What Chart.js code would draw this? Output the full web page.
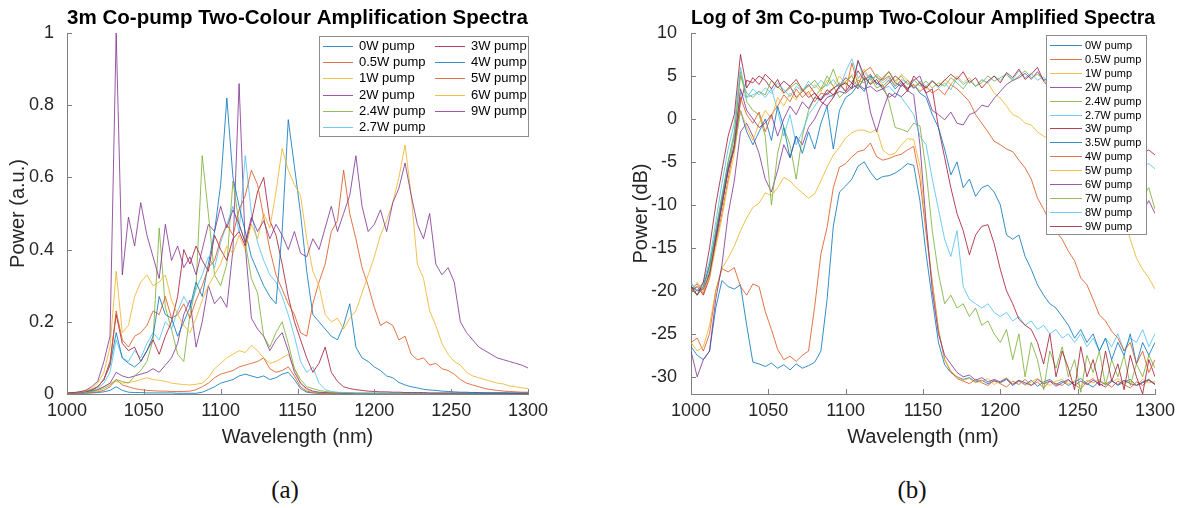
<!DOCTYPE html>
<html>
<head>
<meta charset="utf-8">
<title>3m Co-pump Two-Colour Amplification Spectra</title>
<script src="https://cdn.jsdelivr.net/npm/chart.js@4.4.0/dist/chart.umd.min.js"></script>
<style>
  html, body { margin: 0; padding: 0; background: #fff; }
  body { width: 1185px; height: 508px; position: relative; overflow: hidden; }
  .panel { position: absolute; top: 0; height: 460px; }
  #panelA { left: 0; width: 580px; }
  #panelB { left: 600px; width: 585px; }
  .caption { position: absolute; top: 475px; line-height: 30px; font-family: 'Liberation Serif', 'DejaVu Serif', serif; font-size: 25px; color: #111; transform: translateX(-50%); }
</style>
</head>
<body>
<div class="panel" id="panelA"><canvas id="chartA" width="580" height="460"></canvas></div>
<div class="panel" id="panelB"><canvas id="chartB" width="585" height="460"></canvas></div>
<div class="caption" style="left:285px">(a)</div>
<div class="caption" style="left:912px">(b)</div>

<script>
// --- Data (4 nm sampling) ---
const wavelength = [
  1000,1004,1008,1012,1016,1020,1024,1028,1032,1036,
  1040,1044,1048,1052,1056,1060,1064,1068,1072,1076,
  1080,1084,1088,1092,1096,1100,1104,1108,1112,1116,
  1120,1124,1128,1132,1136,1140,1144,1148,1152,1156,
  1160,1164,1168,1172,1176,1180,1184,1188,1192,1196,
  1200,1204,1208,1212,1216,1220,1224,1228,1232,1236,
  1240,1244,1248,1252,1256,1260,1264,1268,1272,1276,
  1280,1284,1288,1292,1296,1300
];
const xTicks = [1000, 1050, 1100, 1150, 1200, 1250, 1300];
const linTicks = [0, 0.2, 0.4, 0.6, 0.8, 1];
const dbTicks = [-30, -25, -20, -15, -10, -5, 0, 5, 10];

// (a) linear spectra, a.u.
const linLabels = ['0W pump','0.5W pump','1W pump','2W pump','2.4W pump','2.7W pump','3W pump','4W pump','5W pump','6W pump','9W pump'];
const lin0W = [
  0.001,0.001,0.002,0.002,0.003,0.004,0.006,0.010,0.020,0.010,
  0.005,0.004,0.004,0.003,0.003,0.003,0.003,0.003,0.002,0.002,
  0.002,0.002,0.005,0.012,0.020,0.030,0.035,0.040,0.050,0.055,
  0.050,0.045,0.050,0.040,0.045,0.055,0.060,0.040,0.015,0.005,
  0.003,0.002,0.002,0.002,0.002,0.001,0.001,0.001,0.001,0.001,
  0.001,0.001,0.001,0.001,0.001,0.001,0.001,0.001,0.001,0.001,
  0.001,0.001,0.001,0.001,0.001,0.001,0.001,0.001,0.001,0.001,
  0.001,0.001,0.001,0.001,0.001,0.001];
const lin05W = [
  0.001,0.001,0.002,0.003,0.004,0.006,0.010,0.020,0.040,0.025,
  0.020,0.015,0.012,0.010,0.009,0.008,0.008,0.007,0.007,0.007,
  0.008,0.012,0.020,0.030,0.045,0.055,0.060,0.065,0.075,0.080,
  0.085,0.090,0.100,0.070,0.060,0.065,0.075,0.050,0.020,0.008,
  0.004,0.003,0.002,0.002,0.002,0.002,0.001,0.001,0.001,0.001,
  0.001,0.001,0.001,0.001,0.001,0.001,0.001,0.001,0.001,0.001,
  0.001,0.001,0.001,0.001,0.001,0.001,0.001,0.001,0.001,0.001,
  0.001,0.001,0.001,0.001,0.001,0.001];
const lin1W = [
  0.001,0.002,0.003,0.005,0.008,0.012,0.020,0.030,0.035,0.030,
  0.032,0.035,0.040,0.045,0.040,0.038,0.035,0.030,0.028,0.026,
  0.025,0.027,0.030,0.045,0.070,0.085,0.100,0.110,0.120,0.115,
  0.135,0.120,0.100,0.085,0.090,0.100,0.110,0.070,0.030,0.012,
  0.006,0.004,0.003,0.002,0.002,0.002,0.002,0.001,0.001,0.001,
  0.001,0.001,0.001,0.001,0.001,0.001,0.001,0.001,0.001,0.001,
  0.001,0.001,0.001,0.001,0.001,0.001,0.001,0.001,0.001,0.001,
  0.001,0.001,0.001,0.001,0.001,0.001];
const lin2W = [
  0.001,0.002,0.003,0.005,0.008,0.012,0.020,0.030,0.060,0.050,
  0.045,0.050,0.055,0.060,0.070,0.060,0.080,0.100,0.140,0.220,
  0.260,0.130,0.200,0.300,0.250,0.270,0.240,0.400,0.860,0.410,
  0.210,0.180,0.160,0.120,0.150,0.170,0.120,0.060,0.030,0.015,
  0.008,0.005,0.004,0.003,0.003,0.002,0.002,0.002,0.002,0.002,
  0.002,0.002,0.002,0.002,0.001,0.001,0.001,0.001,0.001,0.001,
  0.001,0.001,0.001,0.001,0.001,0.001,0.001,0.001,0.001,0.001,
  0.001,0.001,0.001,0.001,0.001,0.001];
const lin24W = [
  0.001,0.002,0.003,0.004,0.006,0.010,0.015,0.025,0.040,0.035,
  0.030,0.050,0.065,0.090,0.150,0.460,0.240,0.180,0.110,0.090,
  0.220,0.300,0.660,0.500,0.330,0.300,0.360,0.590,0.470,0.420,
  0.320,0.280,0.160,0.130,0.170,0.200,0.140,0.070,0.040,0.020,
  0.015,0.010,0.007,0.005,0.004,0.003,0.003,0.002,0.002,0.002,
  0.002,0.002,0.002,0.002,0.002,0.001,0.001,0.001,0.001,0.001,
  0.001,0.001,0.001,0.001,0.001,0.001,0.001,0.001,0.001,0.001,
  0.001,0.001,0.001,0.001,0.001,0.001];
const lin27W = [
  0.001,0.002,0.003,0.005,0.008,0.015,0.030,0.060,0.150,0.100,
  0.090,0.120,0.100,0.140,0.170,0.150,0.200,0.180,0.230,0.270,
  0.240,0.290,0.330,0.380,0.350,0.420,0.470,0.520,0.450,0.660,
  0.500,0.420,0.370,0.330,0.310,0.270,0.220,0.160,0.090,0.060,
  0.075,0.030,0.012,0.007,0.005,0.004,0.004,0.003,0.003,0.003,
  0.002,0.002,0.002,0.002,0.002,0.002,0.002,0.002,0.002,0.002,
  0.002,0.002,0.002,0.002,0.002,0.002,0.002,0.002,0.002,0.002,
  0.002,0.002,0.002,0.002,0.002,0.002];
const lin3W = [
  0.002,0.003,0.004,0.007,0.010,0.020,0.040,0.090,0.220,0.140,
  0.120,0.130,0.090,0.120,0.150,0.110,0.160,0.200,0.270,0.400,
  0.360,0.410,0.370,0.340,0.440,0.400,0.370,0.430,0.450,0.410,
  0.480,0.560,0.600,0.480,0.440,0.360,0.270,0.200,0.150,0.100,
  0.060,0.085,0.130,0.060,0.035,0.020,0.015,0.012,0.010,0.008,
  0.007,0.006,0.006,0.005,0.005,0.004,0.004,0.004,0.004,0.003,
  0.003,0.003,0.003,0.003,0.003,0.003,0.003,0.003,0.003,0.003,
  0.003,0.003,0.003,0.003,0.003,0.003];
const lin4W = [
  0.002,0.003,0.005,0.008,0.012,0.020,0.040,0.080,0.170,0.100,
  0.085,0.075,0.090,0.120,0.160,0.270,0.220,0.210,0.160,0.200,
  0.240,0.310,0.270,0.360,0.450,0.580,0.820,0.600,0.520,0.450,
  0.380,0.340,0.300,0.270,0.250,0.450,0.760,0.630,0.500,0.340,
  0.220,0.200,0.180,0.160,0.150,0.190,0.250,0.130,0.100,0.090,
  0.075,0.065,0.050,0.045,0.032,0.025,0.020,0.017,0.013,0.011,
  0.010,0.008,0.007,0.006,0.005,0.005,0.004,0.004,0.003,0.003,
  0.003,0.003,0.002,0.002,0.002,0.002];
const lin5W = [
  0.002,0.003,0.005,0.008,0.012,0.020,0.040,0.080,0.230,0.150,
  0.130,0.160,0.170,0.190,0.230,0.220,0.270,0.210,0.220,0.250,
  0.210,0.260,0.300,0.350,0.370,0.430,0.470,0.440,0.510,0.550,
  0.620,0.580,0.490,0.400,0.330,0.290,0.250,0.220,0.170,0.160,
  0.250,0.310,0.360,0.450,0.480,0.620,0.500,0.430,0.350,0.300,
  0.240,0.190,0.200,0.190,0.150,0.160,0.110,0.095,0.100,0.080,
  0.085,0.070,0.065,0.055,0.040,0.030,0.025,0.020,0.015,0.012,
  0.010,0.008,0.007,0.006,0.005,0.005];
const lin6W = [
  0.002,0.003,0.005,0.008,0.015,0.030,0.060,0.130,0.340,0.170,
  0.190,0.270,0.310,0.330,0.300,0.310,0.330,0.260,0.220,0.190,
  0.170,0.210,0.260,0.300,0.330,0.360,0.410,0.390,0.440,0.400,
  0.470,0.430,0.500,0.460,0.560,0.680,0.620,0.580,0.550,0.430,
  0.340,0.300,0.220,0.200,0.210,0.180,0.210,0.230,0.280,0.330,
  0.380,0.440,0.480,0.530,0.600,0.690,0.550,0.360,0.320,0.230,
  0.190,0.140,0.110,0.090,0.080,0.060,0.050,0.045,0.040,0.035,
  0.030,0.028,0.022,0.020,0.017,0.015];
const lin9W = [
  0.003,0.004,0.006,0.010,0.020,0.035,0.090,0.160,1.000,0.330,
  0.490,0.410,0.530,0.440,0.380,0.320,0.470,0.370,0.410,0.350,
  0.380,0.330,0.400,0.470,0.450,0.520,0.460,0.510,0.470,0.420,
  0.490,0.450,0.480,0.430,0.470,0.440,0.400,0.450,0.390,0.380,
  0.430,0.400,0.460,0.520,0.450,0.500,0.550,0.660,0.520,0.450,
  0.470,0.510,0.450,0.530,0.570,0.640,0.550,0.470,0.430,0.500,
  0.360,0.330,0.350,0.310,0.200,0.170,0.150,0.130,0.120,0.110,
  0.100,0.095,0.090,0.085,0.080,0.072];

// (b) log spectra, dB
const dbLabels = ['0W pump','0.5W pump','1W pump','2W pump','2.4W pump','2.7W pump','3W pump','3.5W pump','4W pump','5W pump','6W pump','7W pump','8W pump','9W pump'];
const db0W = [
  -26.5,-27.5,-28,-27,-22,-18.8,-19.5,-19.8,-19.3,-24,
  -28.3,-28.5,-28.8,-28.4,-29,-28.6,-29.2,-28.5,-29,-28.7,
  -28.3,-27,-21,-12.5,-8.5,-7.8,-7,-5.5,-5,-6.2,
  -7.1,-6.7,-6.6,-6.3,-5.8,-5.2,-5.4,-9.5,-15.7,-21,
  -26,-28.6,-29.5,-30,-30.3,-30.1,-30.6,-30.4,-30.8,-30.5,
  -30.7,-30.3,-31,-30.5,-30.9,-30.4,-31.1,-30.6,-30.3,-30.9,
  -30.5,-31,-30.6,-30.2,-30.8,-31.2,-30.5,-30.9,-30.4,-31,
  -30.6,-30.3,-31,-30.7,-30.4,-30.9];
const db05W = [
  -26,-25.5,-27,-25,-20,-17.4,-17.8,-17.3,-19.5,-20.5,
  -19.2,-19.5,-22.4,-24.5,-26.8,-28,-27.6,-28.2,-27.5,-27,
  -21.8,-15.7,-12.6,-8,-5.6,-5.2,-4.4,-3.8,-3.6,-2.8,
  -4.4,-4.8,-4.6,-4.3,-4.1,-3.6,-3.2,-7,-13.3,-19,
  -24.5,-28,-29.4,-30.2,-30.5,-30.8,-30.3,-30.7,-31,-30.4,
  -30.8,-31.2,-30.5,-30.9,-30.3,-31,-30.6,-31.3,-30.5,-30.8,
  -31,-30.4,-30.9,-31.4,-30.6,-30.2,-31,-30.7,-31.2,-30.5,
  -30.9,-31.3,-30.6,-31,-30.4,-30.8];
const db1W = [
  -26,-27,-26.5,-24,-20,-17.4,-16.2,-14.8,-13,-11.5,
  -10.3,-9.8,-8.6,-8.9,-8,-6.8,-7.2,-8,-8.6,-9.2,
  -8.7,-7.2,-5.6,-4.2,-3.3,-2.2,-1.6,-1.3,-1.3,-1.6,
  -1.2,-3.6,-4.2,-4,-3,-2.3,-2.4,-5.5,-12.5,-19,
  -24.5,-28,-29.3,-30,-30.4,-30.2,-30.7,-30.5,-30.2,-30.9,
  -30.5,-30.1,-30.8,-30.4,-31,-30.6,-30.2,-30.7,-31,-30.5,
  -30.3,-30.8,-30.5,-31.1,-30.4,-30.7,-30.3,-30.9,-30.6,-30.2,
  -30.8,-30.5,-31,-30.3,-30.7,-30.5];
const db2W = [
  -27,-30,-28,-27,-21,-17,-11.1,-7.2,-1.5,-0.5,
  -2,-4,-7,-8.5,-6,-3,-4.5,-2,-3,-1,
  0,1.5,2.5,2.8,3.2,3,3.6,4,3.5,3.8,
  3.2,3.5,2.5,3,2.6,3.3,2.8,-3,-12,-20,
  -25,-27.5,-28.5,-29.5,-30,-29.8,-30.4,-30.1,-30.6,-30.3,
  -30.6,-30.2,-30.9,-30.4,-30.7,-31,-30.3,-30.8,-30.5,-31.1,
  -30.7,-30.3,-31,-30.5,-30.9,-30.4,-30.8,-31.2,-30.5,-30.9,
  -30.4,-30.8,-31,-30.6,-30.3,-30.9];
const db24W = [
  -19.5,-20,-19,-18,-14,-10,-6,-2,5.5,2,
  1,0.5,-2,-10,-4,-1,-3,-7,-2,1,
  2.5,3.5,5,3.8,2.5,3.2,3.8,4.5,4.2,4.8,
  3.6,4,2,-1,-1.2,-1.5,-0.5,-0.8,-6,-13,
  -18,-21.5,-20.5,-22,-21.5,-23,-22,-24,-23.5,-25,
  -26,-24.5,-28,-25,-30,-26,-28,-31.5,-27,-29,
  -26.5,-30,-28,-31.8,-27.5,-29.5,-27,-31,-28,-30,
  -27.5,-31,-28.5,-30,-27.5,-29];
const db27W = [
  -19,-20,-19.5,-17,-13,-9,-5,-2,3,2.5,
  2.8,3.2,2.5,3.5,1,-2,0.5,-3,-1.5,0.5,
  1.5,2.5,3,2.5,3.8,4.2,3.5,6.8,4.5,5,
  4.2,3.5,3.8,3,2.5,1.5,0.5,-2,-3,-7,
  -10.5,-14,-16,-13,-19.5,-21,-21.5,-22,-21.5,-22.5,
  -23,-22.5,-23.5,-23,-24,-23.5,-24.5,-24,-25,-24.5,
  -25.5,-25,-26,-25,-26.5,-25.5,-27,-25.5,-26.5,-25,
  -27,-25.5,-26,-24.5,-26.5,-25];
const db3W = [
  -20,-19.5,-20.5,-18.5,-14,-10,-6,-3.5,2,4.5,
  4.2,5,4.5,3.5,4.6,3,3.8,2.5,3.2,4,
  3,2,1.5,2.5,3.8,4.8,4.2,5.6,4.5,5.2,
  4,4.8,5.5,4.2,3.8,4.5,3.6,4.2,3,3.5,
  -1,-4.5,-8,-11,-13,-15.8,-13.5,-12.5,-12.3,-14.5,
  -17.5,-20,-21.5,-23.3,-24,-24.5,-26,-28.5,-25,-30,
  -27,-29,-31.5,-26.5,-30,-28,-31,-27,-30.5,-28.5,
  -31.5,-27.5,-30,-32,-28,-30];
const db35W = [
  -19.5,-20.5,-19.5,-17,-13.5,-9.5,-5.5,-3.5,1,-1.5,
  -3,-1.5,0,-2.5,1.5,-1,-4.5,-2,-4,-1.5,
  -3.5,-0.5,1.5,-3.5,1,2.5,3,4,3.2,5,
  4.2,3.8,4.5,3.5,4.2,3.6,4,3,2.5,0.5,
  -1,-3.5,-6.5,-5,-8,-7,-9,-8,-7.7,-8.5,
  -10,-13.5,-14,-13.5,-16,-17.5,-19.3,-20.5,-21.5,-22,
  -23,-24,-25.5,-24.5,-26,-25,-27,-25.5,-28,-26,
  -27.5,-25,-28.5,-26,-27.5,-26];
const db4W = [
  -19.8,-19.2,-20.3,-18,-14.5,-11,-7,-3,2.5,0.5,
  -0.5,0.8,-1.5,0.5,1.5,2.8,2,3.5,2.5,3.2,
  2,3,2.8,3.5,4.2,3.2,6.5,4,5.5,6,
  4.8,4.5,5,3.8,4.4,3.5,4,3.2,3.8,3,
  3.5,2.8,4,3.5,2.8,2,0.5,-0.5,-1.5,-2.6,
  -3,-3.5,-3.8,-4.8,-5.7,-7,-9.2,-10.5,-12,-13.1,
  -14,-15.4,-16.5,-18.5,-19.3,-21,-22.8,-23.5,-24.7,-25.5,
  -27,-26,-28.5,-27,-29.5,-28];
const db5W = [
  -20.2,-19,-20,-18.5,-15,-11.5,-7.5,-4,1,-1,
  -2.5,-0.5,1,0,2.5,1.5,3,2.2,3.5,2.8,
  4,3.2,4.5,3.8,5,4,5.2,4.6,5.8,4.5,
  5,3.8,4.6,4,5.2,4.5,3.8,4.2,3.5,4.5,
  3.8,4.6,4,5,4.2,4.8,3.8,4.5,4.2,3,
  2.4,1.5,0.5,0.2,-0.5,-0.7,-1.5,-2,-2.4,-2.8,
  -3.5,-4,-4.8,-5.5,-6.1,-7,-7.5,-8.5,-9.5,-10.7,
  -11.5,-14,-16.2,-17.5,-18.5,-19.8];
const db6W = [
  -19.5,-20,-19.8,-18,-14,-10,-6,-3,3.5,1,
  0,-1,-0.5,0.5,-2,0,1.5,0.5,2,1.2,
  2.5,2.2,3,3.6,4,3.2,4.2,3.5,4.8,0.8,
  -1.5,1,3,2.5,4,3.4,4.5,5,3,1,
  0.5,-0.1,0.8,-0.5,-0.7,0.5,0.8,1.6,1.4,2.4,
  3.2,4,4.5,4.8,5.3,4.6,5.5,4.5,4.8,3.5,
  2.5,1,-0.5,-2,-3.5,-5,-6,-7,-7.8,-8.5,
  -9,-9.8,-10,-10.8,-9.5,-11];
const db7W = [
  -19.8,-20.5,-19.5,-17.5,-13,-9,-5,-1.5,5,3,
  2.5,3.2,2.8,4.5,3.8,3,3.6,4.2,3.3,3.8,
  4.5,3.5,4,5.8,3.8,4.4,5,3.6,4.8,4.1,
  5.2,4.6,5.5,4.4,5,4,4.6,3.8,4.4,3.6,
  4.2,3.8,4.8,4.2,3.5,4.5,3.8,4.2,5,4.4,
  4.8,5.2,4.4,5,5.6,4.8,5.2,4.6,4,3.4,
  2.5,1.5,0.5,-0.5,-1.5,-2.5,-3.5,-4.5,-5.2,-6,
  -6.8,-7.5,-8.2,-9,-8,-10.5];
const db8W = [
  -19.2,-20,-19,-16.5,-12,-7.5,-3.5,-0.5,6,2.5,
  3.5,2.8,3.6,3,4.2,3.4,2.6,3.8,3.2,4.4,
  3.6,4.5,3.8,4.6,3.5,5.5,7,4.8,5.4,4.6,
  5,4.2,4.8,3.8,4.6,4.2,3.5,4.4,3.8,4.5,
  3.6,4.2,3.4,4.8,4,4.5,3.8,4.6,4.2,5,
  4.5,5.2,4.6,5.6,4.8,5.3,4.5,4.9,4,3,
  2.2,1.2,0.5,-0.3,-1,-1.8,-2.5,-3,-3.5,-4,
  -4.4,-4.8,-5,-5.4,-5.2,-5.8];
const db9W = [
  -19.5,-20.5,-19,-15,-10,-6,-2,0.5,7.5,3.6,
  4.8,4,5.2,4.5,3.6,4.4,3.8,4.6,3.4,2.5,
  3,2.2,3.4,2.8,3.8,4.2,3.5,6.8,5,4,
  4.6,3.5,4.2,5,4.4,3.2,5,4.2,3.6,4.4,
  3.8,4.5,5.2,4.6,5.5,4.2,4.8,3.6,4.4,5,
  4.2,5.4,4.8,5.8,4.6,5.2,6,4.4,3.6,2.8,
  2,1.2,0.6,0,-0.5,-1,-1.6,-2,-2.4,-2.8,
  -3.2,-3.5,-3.2,-4,-3.6,-4.2];

// --- Look & feel (MATLAB default colour order, thin pale lines) ---
const FONT = "'Liberation Sans', Arial, Helvetica, sans-serif";
const COLOURS = ['rgba(0,114,189,0.8)', 'rgba(217,83,25,0.8)', 'rgba(237,177,32,0.8)', 'rgba(126,47,142,0.8)',
                 'rgba(119,172,48,0.8)', 'rgba(77,190,238,0.8)', 'rgba(162,20,47,0.8)'];
const AXIS_GREY = '#808080';
const TEXT_DARK = '#262626';

function lineSets(labels, series) {
    return series.map((vals, i) => ({
        label: labels[i],
        data: wavelength.map((w, k) => ({ x: w, y: vals[k] })),
        borderColor: COLOURS[i % COLOURS.length],
        borderWidth: 1,
        pointRadius: 0,
        tension: 0,
        fill: false,
        order: series.length - i   // later series drawn on top, like MATLAB
    }));
}

// inward tick marks, MATLAB style
const inwardTicks = {
    id: 'inwardTicks',
    afterDraw(chart) {
        const { ctx, chartArea, scales } = chart;
        ctx.save();
        ctx.strokeStyle = AXIS_GREY;
        ctx.lineWidth = 1;
        scales.x.ticks.forEach(t => {
            const px = Math.round(scales.x.getPixelForValue(t.value)) + 0.5;
            ctx.beginPath(); ctx.moveTo(px, chartArea.bottom); ctx.lineTo(px, chartArea.bottom - 5); ctx.stroke();
        });
        scales.y.ticks.forEach(t => {
            const py = Math.round(scales.y.getPixelForValue(t.value)) + 0.5;
            ctx.beginPath(); ctx.moveTo(chartArea.left, py); ctx.lineTo(chartArea.left + 5, py); ctx.stroke();
        });
        ctx.restore();
    }
};

// boxed legend drawn over the lines
const boxLegend = {
    id: 'boxLegend',
    afterDatasetsDraw(chart, args, o) {
        const ctx = chart.ctx;
        ctx.save();
        ctx.fillStyle = '#fff';
        ctx.fillRect(o.x, o.y, o.w, o.h);
        ctx.strokeStyle = '#8c8c8c';
        ctx.lineWidth = 1;
        ctx.strokeRect(o.x + 0.5, o.y + 0.5, o.w, o.h);
        ctx.font = o.fontSize + 'px ' + FONT;
        ctx.textBaseline = 'middle';
        chart.data.datasets.forEach((ds, i) => {
            const col = Math.floor(i / o.rows), row = i % o.rows;
            const x0 = o.x + o.lineStart + col * o.colWidth;
            const y0 = Math.round(o.y + o.firstRow + row * o.rowHeight) + 0.5;
            ctx.strokeStyle = ds.borderColor;
            ctx.beginPath(); ctx.moveTo(x0, y0); ctx.lineTo(x0 + o.lineLen, y0); ctx.stroke();
            ctx.fillStyle = '#000';
            ctx.fillText(ds.label, x0 + o.lineLen + o.gap, y0);
        });
        ctx.restore();
    }
};

function makeChart(id, cfg) {
    return new Chart(document.getElementById(id), {
        type: 'line',
        data: { datasets: lineSets(cfg.labels, cfg.series) },
        options: {
            responsive: false,
            animation: false,
            layout: { padding: { left: 0, right: cfg.rightPad, top: 0, bottom: 0 } },
            plugins: {
                legend: { display: false },
                tooltip: { enabled: false },
                title: {
                    display: true, text: cfg.title, fullSize: false, color: '#000',
                    font: { family: FONT, size: cfg.titleSize, weight: 'bold', lineHeight: 1.2 },
                    padding: { top: 6, bottom: 33 - 6 - cfg.titleSize * 1.2 }
                },
                boxLegend: cfg.legend
            },
            scales: {
                x: {
                    type: 'linear', min: 1000, max: 1300,
                    afterBuildTicks: s => { s.ticks = xTicks.map(v => ({ value: v })); },
                    afterFit: s => { s.height = 66; },
                    ticks: { callback: v => String(v), color: TEXT_DARK, font: { family: FONT, size: 18 }, padding: 6, maxRotation: 0, autoSkip: false },
                    grid: { display: false, drawTicks: false },
                    border: { display: true, color: AXIS_GREY, width: 1 },
                    title: { display: true, text: 'Wavelength (nm)', color: TEXT_DARK, font: { family: FONT, size: 20, lineHeight: 1.2 }, padding: { top: 0, bottom: 11 } }
                },
                y: {
                    type: 'linear', min: cfg.yMin, max: cfg.yMax,
                    afterBuildTicks: s => { s.ticks = cfg.yTicks.map(v => ({ value: v })); },
                    afterFit: s => { s.width = cfg.yWidth; },
                    ticks: { callback: v => String(v), color: TEXT_DARK, font: { family: FONT, size: 18 }, padding: cfg.yTickPad, autoSkip: false },
                    grid: { display: false, drawTicks: false },
                    border: { display: true, color: AXIS_GREY, width: 1 },
                    title: { display: true, text: cfg.yTitle, color: TEXT_DARK, font: { family: FONT, size: 20, lineHeight: 1.2 }, padding: { top: cfg.yTitlePad, bottom: 0 } }
                }
            }
        },
        plugins: [boxLegend, inwardTicks]
    });
}

// --- Panel (a) ---
makeChart('chartA', {
    title: '3m Co-pump Two-Colour Amplification Spectra', titleSize: 21,
    labels: linLabels,
    series: [lin0W, lin05W, lin1W, lin2W, lin24W, lin27W, lin3W, lin4W, lin5W, lin6W, lin9W],
    yMin: 0, yMax: 1, yTicks: linTicks, yTitle: 'Power (a.u.)',
    yWidth: 67, yTickPad: 13, yTitlePad: 6, rightPad: 52,
    legend: { x: 319, y: 36, w: 209, h: 100, rows: 6, lineStart: 4, lineLen: 30, gap: 6, colWidth: 112, firstRow: 9.7, rowHeight: 16.3, fontSize: 13 }
});

// --- Panel (b) ---
makeChart('chartB', {
    title: 'Log of 3m Co-pump Two-Colour Amplified Spectra', titleSize: 20,
    labels: dbLabels,
    series: [db0W, db05W, db1W, db2W, db24W, db27W, db3W, db35W, db4W, db5W, db6W, db7W, db8W, db9W],
    yMin: -32, yMax: 10, yTicks: dbTicks, yTitle: 'Power (dB)',
    yWidth: 91, yTickPad: 14, yTitlePad: 29, rightPad: 30,
    legend: { x: 446, y: 35, w: 100, h: 199, rows: 14, lineStart: 4, lineLen: 32, gap: 3, colWidth: 0, firstRow: 10, rowHeight: 13.9, fontSize: 11 }
});
</script>
</body>
</html>
